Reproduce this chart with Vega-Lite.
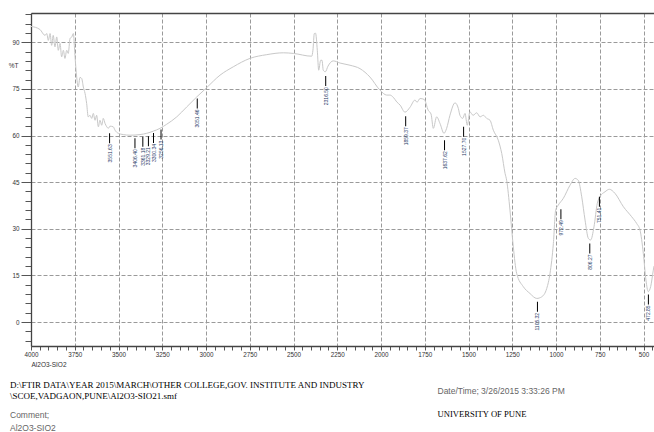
{
  "$schema": "https://vega.github.io/schema/vega-lite/v6.json",
  "width": 623,
  "height": 333,
  "autosize": {"type": "none"},
  "padding": {"left": 31, "top": 13, "right": 0, "bottom": 86},
  "background": "white",
  "config": {"view": {"stroke": null}, "font": "Liberation Sans"},
  "title": {
    "text": ["D:\\FTIR DATA\\YEAR 2015\\MARCH\\OTHER COLLEGE,GOV. INSTITUTE AND INDUSTRY", "\\SCOE,VADGAON,PUNE\\Al2O3-SIO21.smf"],
    "subtitle": ["Comment;", "Al2O3-SIO2"],
    "orient": "bottom",
    "anchor": "start",
    "frame": "group",
    "dx": -21,
    "dy": -37,
    "offset": 0,
    "font": "Liberation Serif",
    "fontSize": 9,
    "fontWeight": "normal",
    "color": "#000000",
    "lineHeight": 10.5,
    "baseline": "top",
    "subtitleFont": "Liberation Sans",
    "subtitleFontSize": 8.5,
    "subtitleColor": "#666666",
    "subtitleLineHeight": 13.5,
    "subtitlePadding": 10
  },
  "datasets": {
    "spectrum": [
      {"wn": 4000, "T": 95.1}, {"wn": 3949, "T": 94.1}, {"wn": 3920, "T": 92.2}, {"wn": 3910, "T": 92.8},
      {"wn": 3901, "T": 90.6}, {"wn": 3891, "T": 92.8}, {"wn": 3882, "T": 89.0}, {"wn": 3873, "T": 92.2},
      {"wn": 3863, "T": 88.5}, {"wn": 3853, "T": 91.7}, {"wn": 3844, "T": 87.4}, {"wn": 3834, "T": 89.6},
      {"wn": 3825, "T": 85.3}, {"wn": 3815, "T": 87.4}, {"wn": 3806, "T": 84.8}, {"wn": 3796, "T": 87.4},
      {"wn": 3787, "T": 86.4}, {"wn": 3777, "T": 91.2}, {"wn": 3767, "T": 91.7}, {"wn": 3758, "T": 92.8},
      {"wn": 3749, "T": 85.8}, {"wn": 3739, "T": 78.8}, {"wn": 3730, "T": 75.6}, {"wn": 3720, "T": 78.7},
      {"wn": 3710, "T": 78.3}, {"wn": 3701, "T": 75.6}, {"wn": 3691, "T": 73.5}, {"wn": 3682, "T": 70.3},
      {"wn": 3673, "T": 66.0}, {"wn": 3663, "T": 66.5}, {"wn": 3653, "T": 65.5}, {"wn": 3644, "T": 67.1},
      {"wn": 3634, "T": 64.9}, {"wn": 3625, "T": 66.5}, {"wn": 3615, "T": 62.8}, {"wn": 3606, "T": 64.9},
      {"wn": 3596, "T": 63.3}, {"wn": 3587, "T": 65.5}, {"wn": 3577, "T": 63.9}, {"wn": 3567, "T": 62.8},
      {"wn": 3558, "T": 62.3}, {"wn": 3549, "T": 63.0}, {"wn": 3530, "T": 62.8}, {"wn": 3520, "T": 61.7},
      {"wn": 3501, "T": 60.7}, {"wn": 3473, "T": 60.3}, {"wn": 3434, "T": 60.1}, {"wn": 3377, "T": 60.3},
      {"wn": 3339, "T": 60.7}, {"wn": 3301, "T": 61.4}, {"wn": 3263, "T": 62.3}, {"wn": 3225, "T": 63.6},
      {"wn": 3167, "T": 66.0}, {"wn": 3110, "T": 69.2}, {"wn": 3053, "T": 72.4}, {"wn": 2996, "T": 75.4},
      {"wn": 2920, "T": 79.4}, {"wn": 2844, "T": 82.1}, {"wn": 2749, "T": 84.8}, {"wn": 2653, "T": 86.0},
      {"wn": 2558, "T": 86.6}, {"wn": 2501, "T": 86.4}, {"wn": 2396, "T": 85.5}, {"wn": 2389, "T": 87.4},
      {"wn": 2381, "T": 92.8}, {"wn": 2374, "T": 92.9}, {"wn": 2364, "T": 87.4}, {"wn": 2356, "T": 81.0},
      {"wn": 2345, "T": 84.2}, {"wn": 2337, "T": 84.2}, {"wn": 2330, "T": 81.0}, {"wn": 2318, "T": 80.5},
      {"wn": 2303, "T": 82.3}, {"wn": 2273, "T": 84.0}, {"wn": 2234, "T": 83.3}, {"wn": 2177, "T": 82.6},
      {"wn": 2120, "T": 81.5}, {"wn": 2063, "T": 78.8}, {"wn": 2006, "T": 74.6}, {"wn": 1967, "T": 73.0},
      {"wn": 1949, "T": 73.0}, {"wn": 1930, "T": 72.3}, {"wn": 1910, "T": 70.8}, {"wn": 1891, "T": 69.8},
      {"wn": 1863, "T": 67.5}, {"wn": 1834, "T": 69.1}, {"wn": 1806, "T": 71.4}, {"wn": 1794, "T": 70.7},
      {"wn": 1777, "T": 71.9}, {"wn": 1753, "T": 71.6}, {"wn": 1730, "T": 68.1}, {"wn": 1714, "T": 66.9},
      {"wn": 1701, "T": 62.3}, {"wn": 1682, "T": 66.0}, {"wn": 1663, "T": 63.9}, {"wn": 1640, "T": 60.7},
      {"wn": 1625, "T": 62.3}, {"wn": 1606, "T": 66.5}, {"wn": 1577, "T": 70.5}, {"wn": 1558, "T": 68.7},
      {"wn": 1549, "T": 66.5}, {"wn": 1533, "T": 65.5}, {"wn": 1520, "T": 67.1}, {"wn": 1507, "T": 63.3},
      {"wn": 1492, "T": 67.6}, {"wn": 1474, "T": 66.5}, {"wn": 1453, "T": 67.3}, {"wn": 1434, "T": 66.0},
      {"wn": 1415, "T": 66.5}, {"wn": 1396, "T": 65.5}, {"wn": 1377, "T": 64.9}, {"wn": 1358, "T": 61.7},
      {"wn": 1330, "T": 58.5}, {"wn": 1310, "T": 54.2}, {"wn": 1291, "T": 47.8}, {"wn": 1282, "T": 45.6},
      {"wn": 1263, "T": 36.0}, {"wn": 1244, "T": 24.2}, {"wn": 1225, "T": 15.7}, {"wn": 1187, "T": 11.4},
      {"wn": 1149, "T": 9.2}, {"wn": 1110, "T": 7.6}, {"wn": 1082, "T": 8.1}, {"wn": 1053, "T": 10.8},
      {"wn": 1034, "T": 15.7}, {"wn": 1015, "T": 25.3}, {"wn": 1002, "T": 36.0}, {"wn": 987, "T": 37.6},
      {"wn": 958, "T": 39.8}, {"wn": 920, "T": 44.0}, {"wn": 891, "T": 46.2}, {"wn": 873, "T": 45.6},
      {"wn": 853, "T": 40.3}, {"wn": 834, "T": 32.8}, {"wn": 815, "T": 26.9}, {"wn": 802, "T": 26.4},
      {"wn": 783, "T": 30.6}, {"wn": 764, "T": 38.2}, {"wn": 749, "T": 40.3}, {"wn": 720, "T": 41.9},
      {"wn": 695, "T": 42.7}, {"wn": 663, "T": 41.4}, {"wn": 615, "T": 37.1}, {"wn": 568, "T": 33.9},
      {"wn": 539, "T": 31.7}, {"wn": 520, "T": 29.6}, {"wn": 501, "T": 22.1}, {"wn": 486, "T": 13.5},
      {"wn": 473, "T": 9.8}, {"wn": 459, "T": 11.4}, {"wn": 444, "T": 16.7}, {"wn": 440, "T": 18.0}
    ],
    "peaks": [
      {"wn": 3551, "T": 60.7, "label": "3551.63"},
      {"wn": 3406, "T": 59.1, "label": "3406.40"},
      {"wn": 3361, "T": 59.6, "label": "3361.18"},
      {"wn": 3329, "T": 59.8, "label": "3329.21"},
      {"wn": 3300, "T": 60.8, "label": "3300.34"},
      {"wn": 3257, "T": 61.9, "label": "3256.13"},
      {"wn": 3050, "T": 71.9, "label": "3051.46"},
      {"wn": 2316, "T": 79.1, "label": "2316.50"},
      {"wn": 1859, "T": 66.2, "label": "1859.37"},
      {"wn": 1637, "T": 58.5, "label": "1637.62"},
      {"wn": 1528, "T": 62.8, "label": "1527.70"},
      {"wn": 1106, "T": 6.5, "label": "1105.32"},
      {"wn": 972, "T": 36.3, "label": "972.49"},
      {"wn": 807, "T": 25.3, "label": "806.27"},
      {"wn": 752, "T": 40.3, "label": "751.41"},
      {"wn": 472, "T": 8.9, "label": "472.85"}
    ]
  },
  "resolve": {"axis": {"x": "independent", "y": "independent"}},
  "layer": [
    {
      "data": {"name": "spectrum"},
      "mark": {"type": "line", "color": "#c8c8c8", "strokeWidth": 1, "interpolate": "monotone"},
      "encoding": {
        "x": {
          "field": "wn", "type": "quantitative",
          "scale": {"domain": [4000, 440], "nice": false, "zero": false},
          "axis": {
            "orient": "bottom",
            "values": [450, 500, 550, 600, 650, 700, 750, 800, 850, 900, 950, 1000, 1050, 1100, 1150, 1200, 1250, 1300, 1350, 1400, 1450, 1500, 1550, 1600, 1650, 1700, 1750, 1800, 1850, 1900, 1950, 2000, 2050, 2100, 2150, 2200, 2250, 2300, 2350, 2400, 2450, 2500, 2550, 2600, 2650, 2700, 2750, 2800, 2850, 2900, 2950, 3000, 3050, 3100, 3150, 3200, 3250, 3300, 3350, 3400, 3450, 3500, 3550, 3600, 3650, 3700, 3750, 3800, 3850, 3900, 3950, 4000],
            "format": "d",
            "labelExpr": "datum.value % 250 === 0 ? datum.label : ''",
            "labelFlush": false,
            "labelOverlap": false,
            "labelFont": "Liberation Sans",
            "labelFontSize": 6.3,
            "labelColor": "#333333",
            "labelPadding": 1,
            "tickSize": 4,
            "tickColor": "#555555",
            "tickWidth": 1,
            "domainColor": "#444444",
            "domainWidth": 1.3,
            "grid": true,
            "gridColor": "#9a9a9a",
            "gridDash": [4, 2],
            "gridWidth": 1,
            "gridOpacity": {"condition": {"test": "datum.value % 250 === 0", "value": 1}, "value": 0},
            "title": "Al2O3-SIO2",
            "titleX": 0,
            "titleY": 18,
            "titleAlign": "left",
            "titleBaseline": "middle",
            "titleFont": "Liberation Sans",
            "titleFontSize": 6.5,
            "titleFontWeight": "normal",
            "titleColor": "#333333"
          }
        },
        "y": {
          "field": "T", "type": "quantitative",
          "scale": {"domain": [-7.7, 99.4], "nice": false, "zero": false},
          "axis": {
            "orient": "left",
            "values": [-6, -3, 0, 3, 6, 9, 12, 15, 18, 21, 24, 27, 30, 33, 36, 39, 42, 45, 48, 51, 54, 57, 60, 63, 66, 69, 72, 75, 78, 81, 84, 87, 90, 93, 96, 99],
            "format": "d",
            "labelExpr": "datum.value % 15 === 0 ? datum.label : ''",
            "labelOverlap": false,
            "labelFlush": false,
            "labelFont": "Liberation Sans",
            "labelFontSize": 6.3,
            "labelColor": "#333333",
            "labelPadding": 2,
            "tickSize": {"condition": {"test": "datum.value % 15 === 0", "value": 10}, "value": 6},
            "tickColor": "#555555",
            "tickWidth": 1,
            "domainColor": "#444444",
            "domainWidth": 1.3,
            "grid": true,
            "gridColor": "#9a9a9a",
            "gridDash": [4, 2],
            "gridWidth": 1,
            "gridOpacity": {"condition": {"test": "datum.value % 15 === 0", "value": 1}, "value": 0},
            "title": "%T",
            "titleAngle": 0,
            "titleX": -18,
            "titleY": 52,
            "titleAlign": "center",
            "titleBaseline": "middle",
            "titleFont": "Liberation Sans",
            "titleFontSize": 6.5,
            "titleFontWeight": "normal",
            "titleColor": "#333333"
          }
        }
      }
    },
    {
      "mark": {"type": "rule", "color": "#000000", "strokeWidth": 1},
      "encoding": {
        "x": {
          "datum": 2000,
          "axis": {
            "orient": "top",
            "domain": true,
            "domainColor": "#444444",
            "domainWidth": 1.3,
            "ticks": false,
            "labels": false,
            "grid": false,
            "title": "UNIVERSITY OF PUNE",
            "titleX": 406,
            "titleY": 400.5,
            "titleAlign": "left",
            "titleBaseline": "middle",
            "titleFont": "Liberation Serif",
            "titleFontSize": 8.6,
            "titleFontWeight": "normal",
            "titleColor": "#000000"
          }
        }
      }
    },
    {
      "data": {"name": "peaks"},
      "mark": {"type": "tick", "orient": "vertical", "size": 10, "thickness": 1, "color": "#000000", "opacity": 1, "yOffset": 5},
      "encoding": {
        "x": {"field": "wn", "type": "quantitative", "axis": null},
        "y": {"field": "T", "type": "quantitative", "axis": null}
      }
    },
    {
      "data": {"name": "peaks"},
      "mark": {"type": "text", "angle": 270, "align": "right", "baseline": "middle", "fontSize": 5, "yOffset": 11, "color": "#263a66", "font": "Liberation Sans"},
      "encoding": {
        "x": {"field": "wn", "type": "quantitative", "axis": null},
        "y": {
          "field": "T", "type": "quantitative",
          "axis": {
            "orient": "right",
            "domain": false,
            "ticks": false,
            "labels": false,
            "grid": false,
            "title": "Date/Time; 3/26/2015 3:33:26 PM",
            "titleAngle": 0,
            "titleX": -217,
            "titleY": 377,
            "titleAlign": "left",
            "titleBaseline": "middle",
            "titleFont": "Liberation Sans",
            "titleFontSize": 8.5,
            "titleFontWeight": "normal",
            "titleColor": "#666666"
          }
        },
        "text": {"field": "label"}
      }
    },
    {
      "mark": {"type": "text", "align": "left", "baseline": "middle", "dx": 1.5, "dy": 19, "fontSize": 6.3, "color": "#333333", "font": "Liberation Sans"},
      "encoding": {
        "x": {"datum": 500, "axis": null},
        "y": {"datum": -7.7, "axis": null},
        "text": {"value": "1/cm"}
      }
    }
  ]
}
